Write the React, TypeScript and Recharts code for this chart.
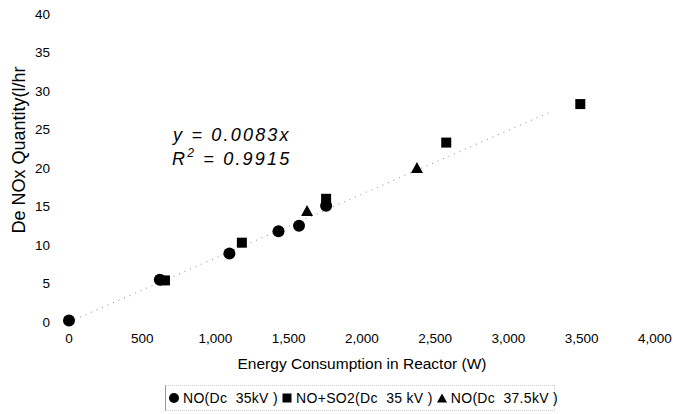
import React from 'react';
import {
  ScatterChart,
  Scatter,
  XAxis,
  YAxis,
  Customized
} from 'recharts';

// NO (Dc 35kV)
const no35 = [
  { x: 0, y: 0.2 },
  { x: 620, y: 5.5 },
  { x: 1095, y: 8.9 },
  { x: 1430, y: 11.8 },
  { x: 1570, y: 12.5 },
  { x: 1755, y: 15.1 }
];

// NO+SO2 (Dc 35 kV)
const noSo2 = [
  { x: 655, y: 5.4 },
  { x: 1180, y: 10.3 },
  { x: 1755, y: 16.0 },
  { x: 2575, y: 23.3 },
  { x: 3490, y: 28.3 }
];

// NO (Dc 37.5kV)
const no375 = [
  { x: 1625, y: 14.4 },
  { x: 2375, y: 20.0 }
];

// linear trend y = 0.0083x, end points as drawn
const trend = [
  { x: 0, y: 0 },
  { x: 3300, y: 27.4 }
];

const xTicks = [0, 500, 1000, 1500, 2000, 2500, 3000, 3500, 4000];
const yTicks = [0, 5, 10, 15, 20, 25, 30, 35, 40];

const FONT = '"Liberation Sans", Arial, sans-serif';

const Dot = (props: any) => <circle cx={props.cx} cy={props.cy} r={6} fill="#000" />;
const Sq = (props: any) => <rect x={props.cx - 5} y={props.cy - 5} width={10} height={10} fill="#000" />;
const Tri = (props: any) => (
  <polygon
    points={`${props.cx},${props.cy - 6} ${props.cx - 6},${props.cy + 5} ${props.cx + 6},${props.cy + 5}`}
    fill="#000"
  />
);

const mk = { flexShrink: 0, marginRight: 4 } as const;

const LegendBox = () => (
  <div
    style={{
      position: 'absolute',
      left: 165,
      top: 385,
      width: 390,
      height: 26,
      borderLeft: '1px solid #999',
      borderRight: '1px dotted #ccc',
      borderTop: '1px dotted #ccc',
      borderBottom: '1px dotted #ccc',
      fontFamily: FONT,
      fontSize: 14,
      letterSpacing: 0.3,
      color: '#000',
      display: 'flex',
      alignItems: 'center',
      paddingLeft: 3,
      boxSizing: 'border-box',
      whiteSpace: 'pre'
    }}
  >
    <svg width={10} height={10} style={mk}><circle cx={5} cy={5} r={5} fill="#000" /></svg>
    <span>{'NO(Dc  35kV ) '}</span>
    <svg width={10} height={10} style={mk}><rect x={0.5} y={0.5} width={9} height={9} fill="#000" /></svg>
    <span>{'NO+SO2(Dc  35 kV ) '}</span>
    <svg width={10} height={10} style={mk}><polygon points="5,0.5 0,9.5 10,9.5" fill="#000" /></svg>
    <span>{'NO(Dc  37.5kV )'}</span>
  </div>
);

const Equation = () => (
  <g fontFamily={FONT} fontStyle="italic" fontSize={18} fill="#000">
    <text x={173} y={141} letterSpacing={2.2}>y = 0.0083x</text>
    <text x={172} y={165} letterSpacing={2.2}>
      R<tspan dy={-8} fontSize={12}>2</tspan>
      <tspan dy={8}>{'  = 0.9915'}</tspan>
    </text>
  </g>
);

export default function App() {
  return (
    <div style={{ position: 'absolute', left: 0, top: 0, width: 673, height: 414, background: '#fff' }}>
      <ScatterChart
        width={673}
        height={414}
        margin={{ top: 14, right: 18, bottom: 62, left: 9 }}
      >
        <XAxis
          type="number"
          dataKey="x"
          domain={[0, 4000]}
          ticks={xTicks}
          tickFormatter={(v: number) => v.toLocaleString('en-US')}
          axisLine={false}
          tickLine={false}
          tickSize={0}
          tickMargin={11}
          tick={{ fill: '#000', fontSize: 13.5, fontFamily: FONT }}
          label={{
            value: 'Energy Consumption in Reactor (W)',
            position: 'insideBottom',
            offset: -17,
            style: { fill: '#000', fontSize: 15.5, fontFamily: FONT }
          }}
          height={30}
        />
        <YAxis
          type="number"
          dataKey="y"
          domain={[0, 40]}
          ticks={yTicks}
          axisLine={false}
          tickLine={false}
          tickSize={0}
          tickMargin={19}
          width={60}
          tick={{ fill: '#000', fontSize: 13.5, fontFamily: FONT }}
          label={{
            value: 'De NOx Quantity(l/hr',
            angle: -90,
            position: 'insideLeft',
            offset: 10,
            dy: -18,
            style: { fill: '#000', fontSize: 18, fontFamily: FONT, textAnchor: 'middle' }
          }}
        />
        <Scatter
          data={trend}
          line={{ stroke: '#888', strokeWidth: 1, strokeDasharray: '1 5' }}
          shape={() => <g />}
          isAnimationActive={false}
          legendType="none"
        />
        <Scatter name="NO(Dc 35kV )" data={no35} shape={Dot} isAnimationActive={false} />
        <Scatter name="NO+SO2(Dc 35 kV )" data={noSo2} shape={Sq} isAnimationActive={false} />
        <Scatter name="NO(Dc 37.5kV )" data={no375} shape={Tri} isAnimationActive={false} />
        <Customized component={Equation} />
      </ScatterChart>
      <LegendBox />
    </div>
  );
}
